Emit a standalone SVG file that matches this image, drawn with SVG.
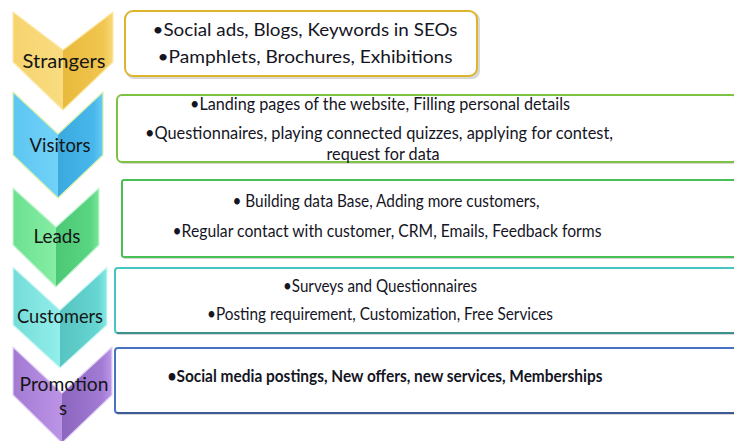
<svg xmlns="http://www.w3.org/2000/svg" width="734" height="441" viewBox="0 0 734 441">
  <defs>
    <style>
      .lbl { font-family: Lato, "Liberation Sans", sans-serif; font-size: 18.5px; fill: #151515; text-anchor: middle; }
      .txt { font-family: Lato, "Liberation Sans", sans-serif; font-size: 17.5px; fill: #15151f; text-anchor: middle; }
      .bold { font-weight: bold; }
      .box { fill: #ffffff; stroke-width: 2; }
      .shadow { fill: #b8b8b8; opacity: 0.55; }
      .edge { fill: none; stroke-width: 1.2; stroke-linejoin: round; }
    </style>
    <!-- left (lit) and right (shaded) halves of each chevron -->
    <linearGradient id="yL" x1="0" y1="0" x2="1" y2="0"><stop offset="0" stop-color="#F6D36E"/><stop offset="1" stop-color="#F9DC80"/></linearGradient>
    <linearGradient id="yR" x1="0" y1="0" x2="1" y2="0"><stop offset="0" stop-color="#E8B93C"/><stop offset="0.8" stop-color="#F1C650"/><stop offset="1" stop-color="#F7D878"/></linearGradient>
    <linearGradient id="bL" x1="0" y1="0" x2="1" y2="0"><stop offset="0" stop-color="#5CC6F2"/><stop offset="1" stop-color="#72D2F8"/></linearGradient>
    <linearGradient id="bR" x1="0" y1="0" x2="1" y2="0"><stop offset="0" stop-color="#3AA9DE"/><stop offset="0.8" stop-color="#48B8EC"/><stop offset="1" stop-color="#6ACBF3"/></linearGradient>
    <linearGradient id="gL" x1="0" y1="0" x2="1" y2="0"><stop offset="0" stop-color="#6CE190"/><stop offset="1" stop-color="#86EDA4"/></linearGradient>
    <linearGradient id="gR" x1="0" y1="0" x2="1" y2="0"><stop offset="0" stop-color="#4CC876"/><stop offset="0.8" stop-color="#5AD682"/><stop offset="1" stop-color="#7AE69A"/></linearGradient>
    <linearGradient id="tL" x1="0" y1="0" x2="1" y2="0"><stop offset="0" stop-color="#74DCD8"/><stop offset="1" stop-color="#92EEEA"/></linearGradient>
    <linearGradient id="tR" x1="0" y1="0" x2="1" y2="0"><stop offset="0" stop-color="#56C4C0"/><stop offset="0.8" stop-color="#66D6D2"/><stop offset="1" stop-color="#86E8E4"/></linearGradient>
    <linearGradient id="pL" x1="0" y1="0" x2="1" y2="0"><stop offset="0" stop-color="#A27AD2"/><stop offset="1" stop-color="#BC94E6"/></linearGradient>
    <linearGradient id="pR" x1="0" y1="0" x2="1" y2="0"><stop offset="0" stop-color="#8C66BE"/><stop offset="0.8" stop-color="#A27BD4"/><stop offset="1" stop-color="#BE98EA"/></linearGradient>
  </defs>

  <rect width="734" height="441" fill="#ffffff"/>

  <!-- Stage 1: Strangers -->
  <g id="strangers">
    <polygon points="13,12 63,50 63,110 13,62" fill="url(#yL)"/>
    <polygon points="63,50 113,12 113,62 63,110" fill="url(#yR)"/>
    <polygon class="edge" stroke="#FCE9A8" points="13,12 63,50 113,12 113,62 63,110 13,62"/>
    <text class="lbl" x="64" y="68" textLength="83" lengthAdjust="spacingAndGlyphs">Strangers</text>
  </g>
  <g id="strangers-box">
    <rect class="shadow" x="126" y="12" width="354" height="67" rx="8"/>
    <rect class="box" stroke="#DDB52C" x="125" y="11" width="352" height="65" rx="8"/>
    <text class="txt" x="305" y="36" textLength="305" lengthAdjust="spacingAndGlyphs">•Social ads, Blogs, Keywords in SEOs</text>
    <text class="txt" x="305" y="63" textLength="295" lengthAdjust="spacingAndGlyphs">•Pamphlets, Brochures, Exhibitions</text>
  </g>

  <!-- Stage 2: Visitors -->
  <g id="visitors">
    <polygon points="13,92 58,134 58,198 13,155" fill="url(#bL)"/>
    <polygon points="58,134 103,92 103,155 58,198" fill="url(#bR)"/>
    <polygon class="edge" stroke="#D8F2B0" points="13,92 58,134 103,92 103,155 58,198 13,155"/>
    <text class="lbl" x="60" y="152" textLength="61" lengthAdjust="spacingAndGlyphs">Visitors</text>
  </g>
  <g id="visitors-box">
    <rect class="shadow" x="118" y="97" width="620" height="67" rx="5"/>
    <rect class="box" stroke="#7DC242" x="117" y="95" width="620" height="67" rx="5"/>
    <text class="txt" x="380" y="110" textLength="380" lengthAdjust="spacingAndGlyphs">•Landing pages of the website, Filling personal details</text>
    <text class="txt" x="379" y="139" textLength="468" lengthAdjust="spacingAndGlyphs">•Questionnaires, playing connected quizzes, applying for contest,</text>
    <text class="txt" x="383" y="160" textLength="113" lengthAdjust="spacingAndGlyphs">request for data</text>
  </g>

  <!-- Stage 3: Leads -->
  <g id="leads">
    <polygon points="13,188 56,227 56,287 13,245" fill="url(#gL)"/>
    <polygon points="56,227 99,188 99,245 56,287" fill="url(#gR)"/>
    <polygon class="edge" stroke="#C8F5D6" points="13,188 56,227 99,188 99,245 56,287 13,245"/>
    <text class="lbl" x="57" y="243" textLength="47" lengthAdjust="spacingAndGlyphs">Leads</text>
  </g>
  <g id="leads-box">
    <rect class="shadow" x="123" y="182" width="620" height="77" rx="2"/>
    <rect class="box" stroke="#48C056" x="122" y="180" width="620" height="77" rx="2"/>
    <text class="txt" x="386" y="207" textLength="307" lengthAdjust="spacingAndGlyphs">• Building data Base, Adding more customers,</text>
    <text class="txt" x="387" y="237" textLength="429" lengthAdjust="spacingAndGlyphs">•Regular contact with customer, CRM, Emails, Feedback forms</text>
  </g>

  <!-- Stage 4: Customers -->
  <g id="customers">
    <polygon points="13,267 60,310 60,368 13,325" fill="url(#tL)"/>
    <polygon points="60,310 107,267 107,325 60,368" fill="url(#tR)"/>
    <polygon class="edge" stroke="#D2F8F6" points="13,267 60,310 107,267 107,325 60,368 13,325"/>
    <text class="lbl" x="60" y="323" textLength="86" lengthAdjust="spacingAndGlyphs">Customers</text>
  </g>
  <g id="customers-box">
    <rect class="shadow" x="116" y="270" width="624" height="65" rx="3"/>
    <rect class="box" stroke="#45C6C0" x="115" y="268" width="624" height="65" rx="3"/>
    <line x1="117" y1="333" x2="734" y2="333" stroke="#3A918D" stroke-width="2"/>
    <text class="txt" x="380" y="292" textLength="194" lengthAdjust="spacingAndGlyphs">•Surveys and Questionnaires</text>
    <text class="txt" x="380" y="320" textLength="346" lengthAdjust="spacingAndGlyphs">•Posting requirement, Customization, Free Services</text>
  </g>

  <!-- Stage 5: Promotions -->
  <g id="promotions">
    <polygon points="13,347 62,393 62,443 13,395" fill="url(#pL)"/>
    <polygon points="62,393 112,347 112,395 62,443" fill="url(#pR)"/>
    <polygon class="edge" stroke="#E4D4F6" points="13,347 62,393 112,347 112,395 62,443 13,395"/>
    <text class="lbl" x="64" y="391" textLength="89" lengthAdjust="spacingAndGlyphs">Promotion</text>
    <text class="lbl" x="63" y="415">s</text>
  </g>
  <g id="promotions-box">
    <rect class="shadow" x="116" y="350" width="624" height="65" rx="3"/>
    <rect class="box" stroke="#4A72C4" x="115" y="348" width="624" height="65" rx="3"/>
    <line x1="117" y1="413" x2="734" y2="413" stroke="#3E5A96" stroke-width="2"/>
    <text class="txt bold" x="385" y="382" textLength="435" lengthAdjust="spacingAndGlyphs">•Social media postings, New offers, new services, Memberships</text>
  </g>

  <!-- stages are stacked directly; no separate connector lines -->
  <g id="connectors"/>
</svg>
